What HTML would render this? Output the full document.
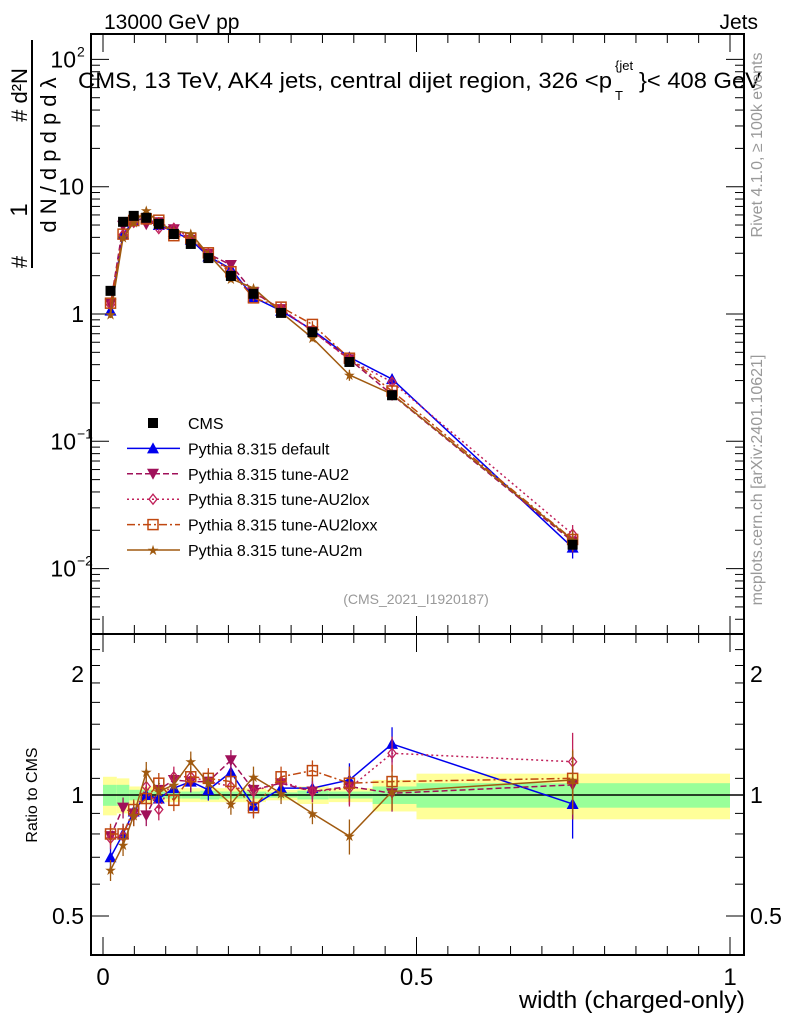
<!DOCTYPE html>
<html><head><meta charset="utf-8"><style>
body{margin:0;background:#fff}
svg{display:block;font-family:"Liberation Sans",sans-serif}
</style></head><body>
<svg id="c" width="786" height="1024" viewBox="0 0 786 1024"></svg>
<script>
const xs=[0.012,0.032,0.049,0.069,0.089,0.113,0.14,0.168,0.204,0.24,0.284,0.334,0.393,0.461,0.749];
const cms=[1.52,5.3,5.9,5.7,5.1,4.25,3.55,2.75,1.99,1.44,1.02,0.72,0.42,0.23,0.0154];
const rDefault=[0.70,0.80,0.91,1.0,0.98,1.04,1.08,1.03,1.14,0.94,1.04,1.04,1.09,1.34,0.95];
const rAU2=[0.79,0.93,0.90,0.89,1.03,1.09,1.08,1.08,1.22,1.03,1.07,1.02,1.05,1.01,1.06];
const rAU2lox=[0.78,0.79,0.89,1.05,0.92,1.11,1.11,1.08,1.05,1.02,1.08,1.02,1.04,1.27,1.21];
const rAU2loxx=[0.80,0.80,0.92,0.98,1.07,0.97,1.11,1.10,1.08,0.93,1.11,1.15,1.07,1.08,1.10];
const rAU2m=[0.65,0.75,0.89,1.14,1.02,1.06,1.21,1.07,0.95,1.11,1.01,0.90,0.79,1.02,1.09];
const binEdges=[0,0.022,0.042,0.058,0.08,0.1,0.125,0.155,0.185,0.222,0.26,0.31,0.36,0.43,0.5,1.0];
const yellowErr=[0.11,0.1,0.05,0.05,0.04,0.04,0.04,0.04,0.04,0.04,0.03,0.05,0.04,0.09,0.13];
const greenErr=[0.06,0.06,0.03,0.03,0.02,0.02,0.02,0.025,0.02,0.02,0.015,0.025,0.02,0.05,0.07];
const yTicksMain=[{v:100,t:"10",s:"2"},{v:10,t:"10"},{v:1,t:"1"},{v:0.1,t:"10",s:"−1"},{v:0.01,t:"10",s:"−2"}];
const rTicks=[0.5,1,2];
const xTicks=[0,0.5,1];

const NS="http://www.w3.org/2000/svg";
const svg=document.getElementById('c');
function el(tag,attrs,parent){const e=document.createElementNS(NS,tag);for(const k in attrs)e.setAttribute(k,attrs[k]);(parent||svg).appendChild(e);return e;}
const L=91,R=744,T=34,M=634,B=955;
const X=v=>103+v*627;
const Y=v=>314-127.3*Math.log10(v);
const RY=v=>795-121/Math.log10(2)*Math.log10(v);

for(let i=0;i<binEdges.length-1;i++){
  const x0=X(binEdges[i]),x1=X(binEdges[i+1]);
  let r=el('rect',{x:x0,y:RY(1+yellowErr[i]),width:x1-x0,height:RY(1-yellowErr[i])-RY(1+yellowErr[i]),fill:'#ffff99'});
  
  
  let g=el('rect',{x:x0,y:RY(1+greenErr[i]),width:x1-x0,height:RY(1-greenErr[i])-RY(1+greenErr[i]),fill:'#99ff99'});
  
  
}
el('line',{x1:L,x2:R,y1:RY(1),y2:RY(1),stroke:'#000','stroke-width':1.5});

let f1=el('rect',{x:L,y:T,width:R-L,height:M-T,fill:'none',stroke:'#000','stroke-width':2});

let f2=el('rect',{x:L,y:M,width:R-L,height:B-M,fill:'none',stroke:'#000','stroke-width':2});


for(let v=-0.0;v<=1.0001;v+=0.05){
  const major=Math.abs(v*2-Math.round(v*2))<1e-6;const h=major?18:9;
  for(const [y0,d] of [[T,1],[M,-1],[M,1],[B,-1]]) el('line',{x1:X(v),x2:X(v),y1:y0,y2:y0+d*h,stroke:'#000','stroke-width':1});
}
xTicks.forEach(v=>{let t=el('text',{x:X(v),y:985,'font-size':24,'text-anchor':'middle'});t.textContent=v;
});
for(let d=-3;d<=2;d++)for(let m=1;m<10;m++){const v=m*Math.pow(10,d);const y=Y(v);if(y<T||y>M)continue;const h=m==1?18:9;
 el('line',{x1:L,x2:L+h,y1:y,y2:y,stroke:'#000'});el('line',{x1:R,x2:R-h,y1:y,y2:y,stroke:'#000'});}
yTicksMain.forEach(o=>{let t=el('text',{x:o.s?76:84,y:Y(o.v)+8,'font-size':23,'text-anchor':'end'});t.textContent=o.t;
 
 if(o.s){let s=el('text',{x:77,y:Y(o.v)-3,'font-size':14});s.textContent=o.s;}});
for(let v=0.4;v<=2.45;v+=(v<1?0.1:0.2)){const y=RY(v);if(y<M||y>B)continue;const maj=rTicks.some(r=>Math.abs(r-v)<1e-6);const h=maj?18:9;
 el('line',{x1:L,x2:L+h,y1:y,y2:y,stroke:'#000'});el('line',{x1:R,x2:R-h,y1:y,y2:y,stroke:'#000'});}
rTicks.forEach(v=>{[[84,'end'],[750,'start']].forEach(([x,a])=>{let t=el('text',{x:x,y:RY(v)+8,'font-size':23,'text-anchor':a});t.textContent=v;
 });});

const series=[
 {n:'default',r:rDefault,c:'#0000ee',d:'',m:'tri'},
 {n:'AU2',r:rAU2,c:'#a0105a',d:'6,3',m:'tridown'},
 {n:'AU2lox',r:rAU2lox,c:'#c0205a',d:'2,3',m:'diamond'},
 {n:'AU2loxx',r:rAU2loxx,c:'#c04810',d:'8,3,2,3',m:'square'},
 {n:'AU2m',r:rAU2m,c:'#a05a10',d:'',m:'star'}];
function marker(kind,x,y,c,g){
 if(kind=='tri')el('polygon',{points:`${x},${y-6} ${x-6},${y+5} ${x+6},${y+5}`,fill:c},g);
 else if(kind=='tridown')el('polygon',{points:`${x},${y+6} ${x-6},${y-5} ${x+6},${y-5}`,fill:c},g);
 else if(kind=='diamond')el('polygon',{points:`${x},${y-5} ${x-4},${y} ${x},${y+5} ${x+4},${y}`,fill:'none',stroke:c,'stroke-width':1.3},g);
 else if(kind=='square')el('rect',{x:x-5,y:y-5,width:10,height:10,fill:'none',stroke:c,'stroke-width':1.5},g);
 else if(kind=='star')el('text',{x:x,y:y+5,'font-size':14,'text-anchor':'middle',fill:c},g).textContent='★';
 else if(kind=='cms')el('rect',{x:x-5,y:y-5,width:10,height:10,fill:'#000'},g);
}
series.forEach(s=>{
 const g=el('g',{});
 
 
 const main=s.r.map((r,i)=>r*cms[i]);
 el('polyline',{points:xs.map((x,i)=>X(x)+','+Y(main[i])).join(' '),fill:'none',stroke:s.c,'stroke-width':1.5,'stroke-dasharray':s.d},g);
 el('polyline',{points:xs.map((x,i)=>X(x)+','+RY(s.r[i])).join(' '),fill:'none',stroke:s.c,'stroke-width':1.5,'stroke-dasharray':s.d},g);
 xs.forEach((x,i)=>{
  const e=i==14?0.18:(i==13||i==12?0.1:0.06);
  el('line',{x1:X(x),x2:X(x),y1:RY(s.r[i]*(1+e)),y2:RY(s.r[i]*(1-e)),stroke:s.c,'stroke-width':1.3},g);
  el('line',{x1:X(x),x2:X(x),y1:Y(main[i]*(1+e)),y2:Y(main[i]*(1-e)),stroke:s.c,'stroke-width':1.3},g);
  marker(s.m,X(x),Y(main[i]),s.c,g);marker(s.m,X(x),RY(s.r[i]),s.c,g);
 });
});
const gc=el('g',{});
xs.forEach((x,i)=>marker('cms',X(x),Y(cms[i]),'#000',gc));

const leg=[{t:'CMS',m:'cms',c:'#000',d:''}].concat(series.map(s=>({t:'Pythia 8.315 '+(s.n=='default'?'default':'tune-'+s.n),m:s.m,c:s.c,d:s.d})));
leg.forEach((o,i)=>{const y=423+i*25.4;const g=el('g',{});
 
 if(o.m!='cms')el('line',{x1:127,x2:180,y1:y,y2:y,stroke:o.c,'stroke-width':1.5,'stroke-dasharray':o.d},g);
 marker(o.m,153,y,o.c,g);
 const t=el('text',{x:188,y:y+6,'font-size':16},g);t.textContent=o.t;});

function txt(s,a,name){const t=el('text',a);t.textContent=s;return t;}
txt('13000 GeV pp',{x:104,y:29,'font-size':21},'header-left');
txt('Jets',{x:758,y:29,'font-size':21,'text-anchor':'end'},'header-right');
txt('CMS, 13 TeV, AK4 jets, central dijet region, 326 <p',{x:78,y:88,'font-size':22,textLength:534,lengthAdjust:'spacingAndGlyphs'},'plot-title');
txt('}< 408 GeV',{x:639,y:88,'font-size':22,textLength:122,lengthAdjust:'spacingAndGlyphs'},'plot-title-end');
txt('{jet',{x:615,y:70,'font-size':13},'title-sup');
txt('T',{x:615,y:100,'font-size':13},'title-sub');
txt('(CMS_2021_I1920187)',{x:416,y:604,'font-size':14,fill:'#999','text-anchor':'middle'},'analysis-id');
txt('width (charged-only)',{x:745,y:1008,'font-size':24,'text-anchor':'end',textLength:226,lengthAdjust:'spacingAndGlyphs'},'x-axis-title');
txt('Ratio to CMS',{x:0,y:0,'font-size':16,transform:'translate(37,795) rotate(-90)','text-anchor':'middle'},'ratio-axis-title');
txt('Rivet 4.1.0, ≥ 100k events',{x:0,y:0,'font-size':16,fill:'#999',transform:'translate(762,145) rotate(-90)','text-anchor':'middle'},'rivet-label');
txt('mcplots.cern.ch [arXiv:2401.10621]',{x:0,y:0,'font-size':16,fill:'#999',transform:'translate(762,480) rotate(-90)','text-anchor':'middle'},'mcplots-label');
txt('1',{x:0,y:0,'font-size':24,transform:'translate(27,210) rotate(-90)','text-anchor':'middle'},'y-axis-title-num');
el('line',{x1:32,x2:32,y1:40,y2:268,stroke:'#000','stroke-width':2});
txt('#',{x:0,y:0,'font-size':22,transform:'translate(27,262) rotate(-90)','text-anchor':'middle'},'y-axis-title-hash');
txt('d N / d p  d p  d λ',{x:0,y:0,'font-size':22,transform:'translate(56,155) rotate(-90)','text-anchor':'middle'},'y-axis-title-den');
txt('#    d²N',{x:0,y:0,'font-size':22,transform:'translate(27,95) rotate(-90)','text-anchor':'middle'},'y-axis-title-num2');
</script>
</body></html>
